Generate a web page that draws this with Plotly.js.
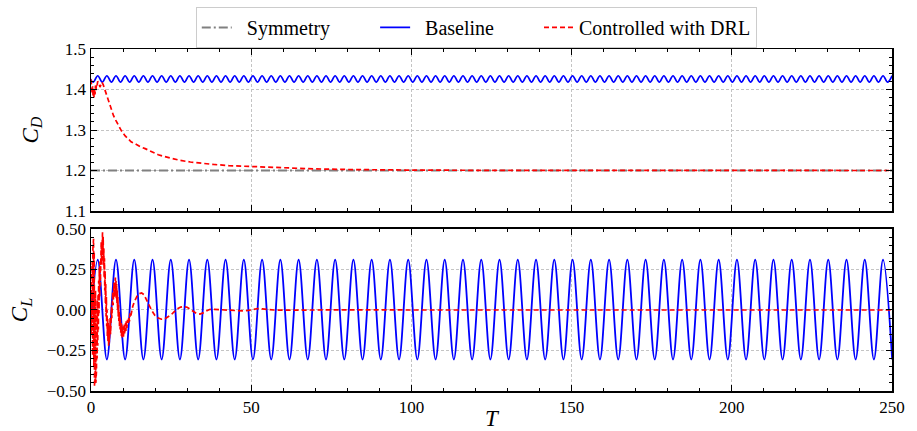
<!DOCTYPE html>
<html>
<head>
<meta charset="utf-8">
<script src="https://cdn.plot.ly/plotly-3.0.1.min.js"></script>
<style>
  html, body { margin: 0; padding: 0; background: #fff; }
  #chart { width: 917px; height: 431px; }
</style>
</head>
<body>
<div id="chart"></div>
<script>
// Baseline (uncontrolled) lift: extrema times and values of the shedding cycle
const baseClT = [-0.75, 2.10, 4.95, 7.80, 10.65, 13.50, 16.35, 19.20, 22.05, 24.90,
  27.75, 30.60, 33.45, 36.30, 39.15, 42.00, 44.85, 47.70, 50.55, 53.40,
  56.25, 59.10, 61.95, 64.80, 67.65, 70.50, 73.35, 76.20, 79.05, 81.90,
  84.75, 87.60, 90.45, 93.30, 96.15, 99.00, 101.85, 104.70, 107.55, 110.40,
  113.25, 116.10, 118.95, 121.80, 124.65, 127.50, 130.35, 133.20, 136.05, 138.90,
  141.75, 144.60, 147.45, 150.30, 153.15, 156.00, 158.85, 161.70, 164.55, 167.40,
  170.25, 173.10, 175.95, 178.80, 181.65, 184.50, 187.35, 190.20, 193.05, 195.90,
  198.75, 201.60, 204.45, 207.30, 210.15, 213.00, 215.85, 218.70, 221.55, 224.40,
  227.25, 230.10, 232.95, 235.80, 238.65, 241.50, 244.35, 247.20, 250.05];
const baseCl = [-0.305, 0.31, -0.305, 0.31, -0.305, 0.31, -0.305, 0.31, -0.305, 0.31,
  -0.305, 0.31, -0.305, 0.31, -0.305, 0.31, -0.305, 0.31, -0.305, 0.31,
  -0.305, 0.31, -0.305, 0.31, -0.305, 0.31, -0.305, 0.31, -0.305, 0.31,
  -0.305, 0.31, -0.305, 0.31, -0.305, 0.31, -0.305, 0.31, -0.305, 0.31,
  -0.305, 0.31, -0.305, 0.31, -0.305, 0.31, -0.305, 0.31, -0.305, 0.31,
  -0.305, 0.31, -0.305, 0.31, -0.305, 0.31, -0.305, 0.31, -0.305, 0.31,
  -0.305, 0.31, -0.305, 0.31, -0.305, 0.31, -0.305, 0.31, -0.305, 0.31,
  -0.305, 0.31, -0.305, 0.31, -0.305, 0.31, -0.305, 0.31, -0.305, 0.31,
  -0.305, 0.31, -0.305, 0.31, -0.305, 0.31, -0.305, 0.31, -0.305];

// Baseline drag: extrema times (twice the lift frequency) and values
const baseCdT = [-0.75, 0.675, 2.1, 3.525, 4.95, 6.375, 7.8, 9.225, 10.65, 12.075,
  13.5, 14.925, 16.35, 17.775, 19.2, 20.625, 22.05, 23.475, 24.9, 26.325,
  27.75, 29.175, 30.6, 32.025, 33.45, 34.875, 36.3, 37.725, 39.15, 40.575,
  42, 43.425, 44.85, 46.275, 47.7, 49.125, 50.55, 51.975, 53.4, 54.825,
  56.25, 57.675, 59.1, 60.525, 61.95, 63.375, 64.8, 66.225, 67.65, 69.075,
  70.5, 71.925, 73.35, 74.775, 76.2, 77.625, 79.05, 80.475, 81.9, 83.325,
  84.75, 86.175, 87.6, 89.025, 90.45, 91.875, 93.3, 94.725, 96.15, 97.575,
  99, 100.425, 101.85, 103.275, 104.7, 106.125, 107.55, 108.975, 110.4, 111.825,
  113.25, 114.675, 116.1, 117.525, 118.95, 120.375, 121.8, 123.225, 124.65, 126.075,
  127.5, 128.925, 130.35, 131.775, 133.2, 134.625, 136.05, 137.475, 138.9, 140.325,
  141.75, 143.175, 144.6, 146.025, 147.45, 148.875, 150.3, 151.725, 153.15, 154.575,
  156, 157.425, 158.85, 160.275, 161.7, 163.125, 164.55, 165.975, 167.4, 168.825,
  170.25, 171.675, 173.1, 174.525, 175.95, 177.375, 178.8, 180.225, 181.65, 183.075,
  184.5, 185.925, 187.35, 188.775, 190.2, 191.625, 193.05, 194.475, 195.9, 197.325,
  198.75, 200.175, 201.6, 203.025, 204.45, 205.875, 207.3, 208.725, 210.15, 211.575,
  213, 214.425, 215.85, 217.275, 218.7, 220.125, 221.55, 222.975, 224.4, 225.825,
  227.25, 228.675, 230.1, 231.525, 232.95, 234.375, 235.8, 237.225, 238.65, 240.075,
  241.5, 242.925, 244.35, 245.775, 247.2, 248.625, 250.05];
const baseCd = [1.434, 1.418, 1.434, 1.418, 1.434, 1.418, 1.434, 1.418, 1.434, 1.418,
  1.434, 1.418, 1.434, 1.418, 1.434, 1.418, 1.434, 1.418, 1.434, 1.418,
  1.434, 1.418, 1.434, 1.418, 1.434, 1.418, 1.434, 1.418, 1.434, 1.418,
  1.434, 1.418, 1.434, 1.418, 1.434, 1.418, 1.434, 1.418, 1.434, 1.418,
  1.434, 1.418, 1.434, 1.418, 1.434, 1.418, 1.434, 1.418, 1.434, 1.418,
  1.434, 1.418, 1.434, 1.418, 1.434, 1.418, 1.434, 1.418, 1.434, 1.418,
  1.434, 1.418, 1.434, 1.418, 1.434, 1.418, 1.434, 1.418, 1.434, 1.418,
  1.434, 1.418, 1.434, 1.418, 1.434, 1.418, 1.434, 1.418, 1.434, 1.418,
  1.434, 1.418, 1.434, 1.418, 1.434, 1.418, 1.434, 1.418, 1.434, 1.418,
  1.434, 1.418, 1.434, 1.418, 1.434, 1.418, 1.434, 1.418, 1.434, 1.418,
  1.434, 1.418, 1.434, 1.418, 1.434, 1.418, 1.434, 1.418, 1.434, 1.418,
  1.434, 1.418, 1.434, 1.418, 1.434, 1.418, 1.434, 1.418, 1.434, 1.418,
  1.434, 1.418, 1.434, 1.418, 1.434, 1.418, 1.434, 1.418, 1.434, 1.418,
  1.434, 1.418, 1.434, 1.418, 1.434, 1.418, 1.434, 1.418, 1.434, 1.418,
  1.434, 1.418, 1.434, 1.418, 1.434, 1.418, 1.434, 1.418, 1.434, 1.418,
  1.434, 1.418, 1.434, 1.418, 1.434, 1.418, 1.434, 1.418, 1.434, 1.418,
  1.434, 1.418, 1.434, 1.418, 1.434, 1.418, 1.434, 1.418, 1.434, 1.418,
  1.434, 1.418, 1.434, 1.418, 1.434, 1.418, 1.434];

// DRL-controlled drag
const ctrlCdT = [0.0, 0.2, 0.35, 0.5, 0.65, 0.8, 0.95, 1.1, 1.25, 1.4, 1.55, 1.7, 1.9, 2.1, 2.4,
  2.8, 3.1, 3.4, 3.8, 4.4, 5.0, 5.4, 6.2, 7.0, 7.8, 8.5, 9.5, 10.6, 11.5, 12.5,
  13.75, 15.3, 16.9, 19, 21, 22.6, 25, 27.8, 31, 35, 38.2, 43, 48.6, 55, 59,
  65, 69.5, 80, 90, 100, 120, 150, 200, 250];
const ctrlCd = [1.425, 1.405, 1.392, 1.408, 1.385, 1.402, 1.380, 1.400, 1.388, 1.410, 1.398, 1.414, 1.410, 1.420, 1.418,
  1.406, 1.412, 1.418, 1.412, 1.398, 1.385, 1.373, 1.354, 1.336, 1.323, 1.312, 1.298, 1.286, 1.278, 1.271,
  1.266, 1.259, 1.254, 1.246, 1.239, 1.235, 1.230, 1.225, 1.221, 1.217, 1.215, 1.212, 1.210, 1.208, 1.207,
  1.205, 1.204, 1.2025, 1.2015, 1.201, 1.2005, 1.2002, 1.2001, 1.200];

// DRL-controlled lift
const ctrlClT = [0.0, 0.1, 0.2, 0.3, 0.4, 0.5, 0.6, 0.7, 0.8, 0.9,
  1.0, 1.1, 1.2, 1.3, 1.4, 1.5, 1.6, 1.7, 1.8, 1.9,
  2.0, 2.1, 2.2, 2.3, 2.4, 2.5, 2.6, 2.7, 2.8, 2.9,
  3.0, 3.1, 3.2, 3.3, 3.4, 3.5, 3.6, 3.7, 3.8, 3.9,
  4.0, 4.1, 4.2, 4.3, 4.4, 4.5, 4.6, 4.7, 4.8, 4.9,
  5.0, 5.1, 5.2, 5.3, 5.4, 5.5, 5.6, 5.7, 5.8, 5.9,
  6.0, 6.1, 6.2, 6.3, 6.4, 6.5, 6.6, 6.7, 6.8, 6.9,
  7.0, 7.1, 7.2, 7.3, 7.4, 7.5, 7.6, 7.7, 7.8, 7.9,
  8.0, 8.1, 8.2, 8.3, 8.4, 8.5, 8.6, 8.7, 8.8, 8.9,
  9.0, 9.1, 9.2, 9.3, 9.4, 9.5, 9.6, 9.7, 9.8, 9.9,
  10.0, 10.1, 10.2, 10.3, 10.4, 10.5, 10.6, 10.7, 10.8, 10.9,
  11.0, 11.2, 11.4, 11.6, 11.8, 12.0, 12.2, 12.4, 12.7, 13.0,
  13.5, 14.0, 14.5, 15.0, 15.8, 16.5, 17.2, 18.0, 19.0, 20.0,
  21.0, 22.0, 23.0, 24.0, 25.0, 26.0, 27.0, 28.0, 29.0, 30.0,
  31.0, 32.0, 33.0, 34.0, 35.0, 36.0, 37.0, 38.5, 40, 42,
  44, 46, 47.5, 49, 50.5, 52, 53.5, 55, 57, 60,
  65, 70, 80, 90, 100, 150, 200, 250];
const ctrlCl = [0.10, -0.15, 0.20, -0.10, 0.30, -0.28, 0.38, -0.20, 0.44, -0.35,
  0.36, -0.47, 0.22, -0.42, 0.12, -0.45, 0.05, -0.38, 0.00, -0.30,
  0.06, -0.22, 0.10, -0.12, 0.18, -0.02, 0.26, 0.08, 0.30, 0.15,
  0.38, 0.22, 0.42, 0.28, 0.46, 0.30, 0.48, 0.34, 0.45, 0.28,
  0.38, 0.20, 0.32, 0.12, 0.24, 0.04, 0.16, -0.04, 0.08, -0.10,
  0.00, -0.16, -0.05, -0.20, -0.08, -0.22, -0.10, -0.20, -0.08, -0.18,
  -0.05, -0.15, -0.02, -0.10, 0.02, -0.05, 0.07, 0.00, 0.11, 0.03,
  0.14, 0.06, 0.17, 0.08, 0.19, 0.10, 0.20, 0.09, 0.18, 0.07,
  0.16, 0.04, 0.12, 0.00, 0.08, -0.04, 0.03, -0.07, -0.01, -0.10,
  -0.04, -0.12, -0.06, -0.14, -0.08, -0.16, -0.09, -0.17, -0.10, -0.16,
  -0.10, -0.17, -0.10, -0.16, -0.09, -0.15, -0.09, -0.14, -0.08, -0.13,
  -0.07, -0.11, -0.06, -0.09, -0.04, -0.07, -0.02, -0.04, 0.00, 0.02,
  0.05, 0.075, 0.09, 0.10, 0.105, 0.095, 0.07, 0.035, -0.005, -0.035,
  -0.05, -0.057, -0.055, -0.045, -0.03, -0.01, 0.008, 0.018, 0.021, 0.017,
  0.005, -0.012, -0.022, -0.025, -0.018, -0.006, 0.003, 0.004, 0.002, 0.001,
  -0.002, -0.005, -0.006, -0.003, 0.004, 0.009, 0.007, 0.003, 0.0, -0.001,
  0.001, 0.0, 0.001, 0.0, 0.0, 0.0, 0.0, 0.0];

// Symmetric steady state reference level
const symT = [0, 250];
const symCd = [1.2, 1.2];

const cdTicks = [1.1, 1.2, 1.3, 1.4, 1.5];
const clTicks = [-0.5, -0.25, 0, 0.25, 0.5];
const tTicks = [0, 50, 100, 150, 200, 250];

const FONT = 'Liberation Serif';
const BLUE = '#0000ff';
const RED = '#ff0000';
const GRAY = '#808080';
const NB = '\u00a0';

const traces = [
  { x: symT, y: symCd, xaxis: 'x', yaxis: 'y', mode: 'lines', name: NB.repeat(2) + 'Symmetry' + NB.repeat(8),
    line: { color: GRAY, width: 2, dash: '9px,3px,2px,3px' } },
  { x: baseCdT, y: baseCd, xaxis: 'x', yaxis: 'y', mode: 'lines', name: NB.repeat(2) + 'Baseline' + NB.repeat(8),
    line: { color: BLUE, width: 1.7, shape: 'spline', smoothing: 1 } },
  { x: ctrlCdT, y: ctrlCd, xaxis: 'x', yaxis: 'y', mode: 'lines', name: 'Controlled with DRL',
    line: { color: RED, width: 1.7, dash: '5px,3px' } },
  { x: baseClT, y: baseCl, xaxis: 'x2', yaxis: 'y2', mode: 'lines', showlegend: false,
    line: { color: BLUE, width: 1.8, shape: 'spline', smoothing: 1 } },
  { x: ctrlClT, y: ctrlCl, xaxis: 'x2', yaxis: 'y2', mode: 'lines', showlegend: false,
    line: { color: RED, width: 1.7, dash: '5px,3px' } }
];

const axisCommon = {
  showline: true, linecolor: '#000', linewidth: 1.5, mirror: 'allticks',
  ticks: 'inside', ticklen: 6, tickwidth: 1, tickcolor: '#000',
  showgrid: true, gridcolor: '#c4c4c4', gridwidth: 1, griddash: '3px,2px',
  zeroline: false, tickfont: { family: FONT, size: 17, color: '#000' }
};

const layout = {
  width: 917, height: 431,
  margin: { l: 91, r: 25, t: 49, b: 40, autoexpand: false },
  paper_bgcolor: '#fff', plot_bgcolor: '#fff',
  font: { family: FONT, color: '#000' },
  showlegend: true,
  legend: {
    orientation: 'h', x: 0.481, xanchor: 'center',
    yref: 'container', y: 0.984, yanchor: 'top',
    bordercolor: '#cccccc', borderwidth: 1, bgcolor: '#fff',
    font: { family: FONT, size: 20, color: '#000' }
  },
  xaxis: Object.assign({}, axisCommon, {
    anchor: 'y', range: [0, 250], tickvals: tTicks,
    showticklabels: false,
    minor: { dtick: 10, ticklen: 3, tickcolor: '#000', ticks: 'inside', showgrid: false }
  }),
  yaxis: Object.assign({}, axisCommon, {
    domain: [0.5263, 1], anchor: 'x', range: [1.1, 1.5], tickvals: cdTicks,
    ticktext: cdTicks.map(v => v.toFixed(1)),
    minor: { dtick: 0.02, ticklen: 3, tickcolor: '#000', ticks: 'inside', showgrid: false },
    title: { text: '<i>C</i><sub><i>D</i></sub>', font: { family: FONT, size: 23 }, standoff: 20 }
  }),
  xaxis2: Object.assign({}, axisCommon, {
    anchor: 'y2', range: [0, 250], tickvals: tTicks,
    minor: { dtick: 10, ticklen: 3, tickcolor: '#000', ticks: 'inside', showgrid: false },
    title: { text: '<i>T</i>', font: { family: FONT, size: 23 }, standoff: 6 }
  }),
  yaxis2: Object.assign({}, axisCommon, {
    domain: [0, 0.4737], anchor: 'x2', range: [-0.5, 0.5], tickvals: clTicks,
    tickformat: '.2f',
    minor: { dtick: 0.05, ticklen: 3, tickcolor: '#000', ticks: 'inside', showgrid: false },
    title: { text: '<i>C</i><sub><i>L</i></sub>', font: { family: FONT, size: 23 }, standoff: 12 }
  })
};

Plotly.newPlot('chart', traces, layout, { displayModeBar: false, staticPlot: true });
</script>
</body>
</html>
